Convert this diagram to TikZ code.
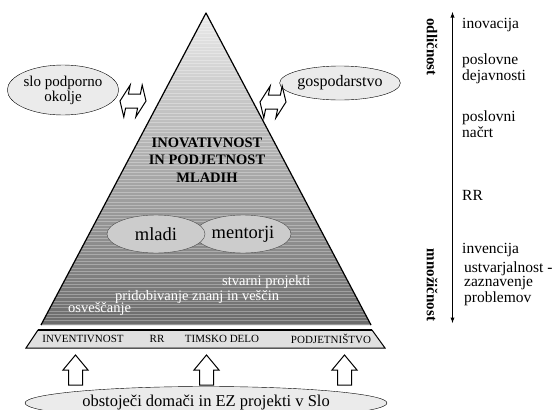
\documentclass[tikz,border=0pt]{standalone}
\usepackage{fontspec}
\setmainfont{Liberation Serif}[Ligatures=TeX]
\newfontfamily\tms{Liberation Serif}
\usetikzlibrary{shapes.geometric}

\definecolor{pyrtop}{gray}{0.92}
\definecolor{pyrbot}{gray}{0.42}
\definecolor{ovalgray}{gray}{0.92}
\definecolor{innergray}{gray}{0.80}
\definecolor{bandgray}{gray}{0.88}

\tikzset{
  every node/.style={font=\tms},
  oval/.style={ellipse, draw, fill=ovalgray, inner sep=0pt, align=center,
    font=\tms\fontsize{15}{15}\selectfont},
  inoval/.style={ellipse, draw=black!70, fill=innergray, inner sep=0pt,
    minimum height=38pt, font=\tms\fontsize{18.5}{18.5}\selectfont},
  lbl/.style={inner sep=0pt, align=left, font=\tms\fontsize{15.5}{14}\selectfont},
  wlbl/.style={inner sep=0pt, text=white, font=\tms\fontsize{14.5}{14.5}\selectfont},
  bandlbl/.style={inner sep=0pt, font=\tms\fontsize{11}{11}\selectfont},
  axlbl/.style={inner sep=0pt, rotate=-90, font=\tms\fontsize{15}{15}\selectfont\bfseries},
  uparr/.pic={\draw[fill=white, line width=1pt]
    (0,0) -- (12.5,15) -- (7,15) -- (7,30) -- (-7,30) -- (-7,15) -- (-12.5,15) -- cycle;},
  dblarr/.pic={\draw[fill=white, line width=1pt, xslant=0.2]
    (-13,0) -- (-6,-16) -- (-6,-7) -- (6,-7) -- (6,-16) -- (13,0)
    -- (6,16) -- (6,7) -- (-6,7) -- (-6,16) -- cycle;}
}

\begin{document}
\begin{tikzpicture}[x=1pt, y=-1pt]
  \clip (0,0) rectangle (555,410);
  \fill[white] (0,0) rectangle (555,410);

  % pyramid
  \coordinate (apex) at (206,13);
  \coordinate (bl) at (41,325);
  \coordinate (br) at (371,325);
  \shade[top color=pyrtop, bottom color=pyrbot] (apex) -- (br) -- (bl) -- cycle;
  \begin{scope}
    \clip (apex) -- (br) -- (bl) -- cycle;
    \foreach \y in {14,17.3,...,325}
      \draw[white, opacity=0.3, line width=0.9pt] (0,\y) -- (555,\y);
  \end{scope}
  \draw[line width=1.2pt, line join=round] (bl) -- (apex) -- (br);

  \node[inner sep=0pt, align=center, font=\tms\fontsize{14.5}{17.5}\selectfont\bfseries]
    (naslov) at (207,160) {INOVATIVNOST\\IN PODJETNOST\\MLADIH};

  \node[inoval, minimum width=96pt] (mentorji) at (243,234) {mentorji};
  \node[inoval, minimum width=98pt] (mladi) at (156,234) {mladi};

  \node[wlbl, anchor=base west] (stvarni) at (222,285) {stvarni projekti};
  \node[wlbl, anchor=base west] (pridob) at (115,300) {pridobivanje znanj in veščin};
  \node[wlbl, anchor=base west] (osvesc) at (68,312) {osveščanje};

  % band
  \draw[fill=bandgray, line width=1pt] (26,348) -- (38,330) -- (372,330) -- (385,348) -- cycle;
  \draw[line width=2.2pt] (38,330) -- (372,330);
  \node[bandlbl] (inv) at (83,339) {INVENTIVNOST};
  \node[bandlbl] (rr) at (157,339) {RR};
  \node[bandlbl] (tim) at (222,339) {TIMSKO DELO};
  \node[bandlbl] (podj) at (331,339) {PODJETNIŠTVO};

  % inputs
  \pic at (75.5,355) {uparr};
  \pic at (206.5,355) {uparr};
  \pic at (344.5,355) {uparr};
  \node[oval, minimum width=362pt, minimum height=33pt, font=\tms\fontsize{16.5}{16.5}\selectfont]
    (ez) at (206,403) {obstoječi domači in EZ projekti v Slo};

  % environment
  \node[oval, minimum width=108pt, minimum height=50pt] (okolje) at (63,90) {slo podporno\\okolje};
  \node[oval, minimum width=100pt, minimum height=34pt, font=\tms\fontsize{16}{16}\selectfont]
    (gosp) at (340,83) {gospodarstvo};
  \pic at (133,101) {dblarr};
  \pic at (273,102) {dblarr};

  % scale
  \coordinate (axtop) at (452.5,12);
  \coordinate (axbot) at (452.5,323);
  \draw[line width=0.9pt, latex-latex] (axbot) -- (axtop);
  \node[axlbl] (odl) at (432,47) {odličnost};
  \node[axlbl] (mnoz) at (432,285) {množičnost};

  \node[lbl, anchor=base west] (inov) at (462,28) {inovacija};
  \node[lbl, anchor=base west] (dejav) at (462,80) {poslovne\\dejavnosti};
  \node[lbl, anchor=base west] (nacrt) at (462,137) {poslovni\\načrt};
  \node[lbl, anchor=base west] (rrs) at (462,200) {RR};
  \node[lbl, anchor=base west] (invenc) at (462,253) {invencija};
  \node[lbl, anchor=base west] (ustv) at (464,302) {ustvarjalnost -\\zaznavenje\\problemov};
\end{tikzpicture}
\end{document}
